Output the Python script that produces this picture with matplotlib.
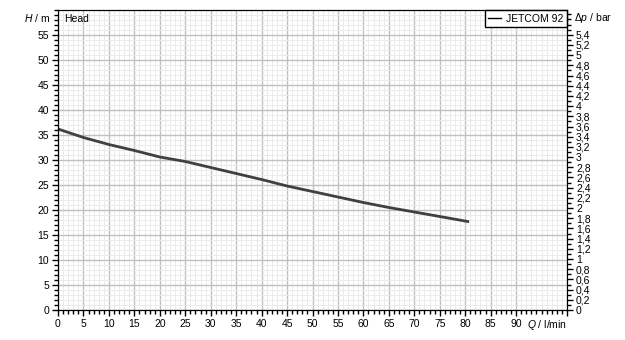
import numpy as np
import matplotlib.pyplot as plt
from matplotlib.ticker import MultipleLocator

# Pump curve
flow = [0, 5, 10, 15, 20, 25, 30, 35, 40, 45, 50, 55, 60, 65, 70, 75, 80.5]
head = [36.2, 34.5, 33.1, 31.9, 30.6, 29.7, 28.5, 27.3, 26.1, 24.8, 23.7,
        22.6, 21.5, 20.5, 19.6, 18.7, 17.7]
series_name = "JETCOM 92"

x_ticks = list(range(0, 95, 5))
y_ticks = list(range(0, 60, 5))
bar_ticks = [round(0.2 * i, 1) for i in range(28)]
bar_max = 60 * 0.0981  # 60 m of water in bar

plt.rcParams['font.family'] = 'Liberation Sans'
plt.rcParams['font.size'] = 7.5
plt.rcParams['mathtext.fontset'] = 'custom'
plt.rcParams['mathtext.rm'] = 'Liberation Sans'
plt.rcParams['mathtext.it'] = 'Liberation Sans:italic'

fig = plt.figure(figsize=(6.25, 3.4), dpi=100)
ax = fig.add_axes([58 / 625, 30 / 340, 509 / 625, 300 / 340])

ax.set_xlim(0, 100)
ax.set_ylim(0, 60)
ax.set_xticks(x_ticks + [100])
ax.set_xticklabels([str(v) for v in x_ticks] + [''])
ax.set_yticks(y_ticks)
ax.xaxis.set_minor_locator(MultipleLocator(1))
ax.yaxis.set_minor_locator(MultipleLocator(1))
ax.grid(which='minor', color='#ebebeb', lw=0.7)
ax.grid(which='major', color='#c0c0c0', lw=1.0)
ax.set_axisbelow(True)
ax.tick_params(which='major', length=4.5, width=1, pad=2, colors='black')
ax.tick_params(which='minor', length=3, width=1)

ax.plot(flow, head, color='#404040', lw=2, label=series_name)

# axis names in place of the last tick labels
ax.text(-0.016, 0.973, r'$H$ / m', transform=ax.transAxes, ha='right', va='center')
ax.text(1.0, -0.05, r'$Q$ / l/min', transform=ax.transAxes, ha='right', va='center')
ax.text(0.012, 0.985, 'Head', transform=ax.transAxes, ha='left', va='top')

ax2 = ax.twinx()
ax2.set_ylim(0, bar_max)
ax2.set_yticks(bar_ticks)
ax2.set_yticklabels([('%g' % v).replace('.', ',') for v in bar_ticks])
ax2.yaxis.set_minor_locator(MultipleLocator(0.1))
ax2.tick_params(which='major', length=4.5, width=1, pad=2)
ax2.tick_params(which='minor', length=3, width=1)
ax2.text(1.014, 0.973, r'$\Delta p$ / bar', transform=ax.transAxes, ha='left', va='center')

leg = ax.legend(loc='upper right', frameon=True, fancybox=False, borderaxespad=0.0,
                handlelength=1.2, handletextpad=0.5, borderpad=0.35)
leg.get_frame().set_edgecolor('black')
leg.get_frame().set_linewidth(1)
leg.get_frame().set_alpha(1)
leg.legend_handles[0].set_linewidth(1)
leg.legend_handles[0].set_color('black')

fig.savefig('out.png', dpi=100)
